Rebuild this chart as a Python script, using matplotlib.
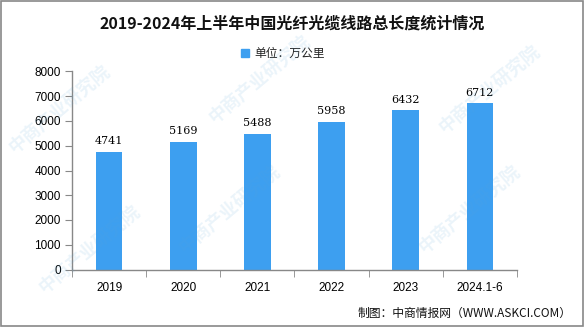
import matplotlib.pyplot as plt
from matplotlib.patches import Rectangle

plt.rcParams['font.family'] = ['Noto Sans CJK SC', 'DejaVu Sans']

years = ['2019', '2020', '2021', '2022', '2023', '2024.1-6']
lengths = [4741, 5169, 5488, 5958, 6432, 6712]
yticks = [0, 1000, 2000, 3000, 4000, 5000, 6000, 7000, 8000]

bar_color = '#3d9ff0'

fig = plt.figure(figsize=(5.85, 3.27), dpi=100)
W, H = 585, 327
ax = fig.add_axes([72 / W, 1 - 269.5 / H, (517 - 72) / W, (269.5 - 71.5) / H])

x = list(range(len(years)))
ax.bar(x, lengths, width=0.36, color=bar_color, zorder=2)
for xi, v in zip(x, lengths):
    ax.text(xi, v + 230, str(v), ha='center', va='bottom', fontsize=8,
            family=['DejaVu Serif'])

ax.set_xlim(-0.5, len(years) - 0.5)
ax.set_ylim(0, 8000)
ax.set_yticks(yticks)
ax.set_yticklabels([str(t) for t in yticks], fontsize=8.5, family=['Liberation Sans'])
ax.set_xticks(x)
ax.set_xticklabels(years, fontsize=8.5, family=['Liberation Sans'])
ax.set_xticks([i - 0.5 for i in range(len(years) + 1)], minor=True)
ax.tick_params(axis='x', which='major', length=0, pad=9)
ax.tick_params(axis='x', which='minor', length=5, color='#888888')
ax.tick_params(axis='y', length=5, color='#888888', pad=3)
for side in ['top', 'right']:
    ax.spines[side].set_visible(False)
for side in ['left', 'bottom']:
    ax.spines[side].set_color('#888888')
    ax.spines[side].set_linewidth(1)

fig.text(0.5, 1 - 24 / H, '2019-2024年上半年中国光纤光缆线路总长度统计情况',
         ha='center', va='center', fontsize=11.5, fontweight='bold', color='#111111')
fig.patches.append(Rectangle((241 / W, 1 - 57 / H), 8 / W, 8 / H,
                             transform=fig.transFigure, color=bar_color))
fig.text(254 / W, 1 - 53 / H, '单位：万公里', ha='left', va='center', fontsize=8.5,
         color='#222222')
fig.text(572 / W, 1 - 313 / H, '制图：中商情报网（WWW.ASKCI.COM）', ha='right',
         va='center', fontsize=8.5, color='#111111')

# faint diagonal watermark
for wx, wy in [(60, 110), (260, 80), (490, 90), (230, 210), (470, 210), (90, 250)]:
    fig.text(wx / W, 1 - wy / H, '中商产业研究院', ha='center', va='center', fontsize=13,
             rotation=40, color='#5aa7d8', alpha=0.12, fontweight='bold')

fig.patches.append(Rectangle((0.001, 0.003), 0.995, 0.995, transform=fig.transFigure,
                             fill=False, edgecolor='#888888', linewidth=1.2))

fig.savefig('out.png', dpi=100)
